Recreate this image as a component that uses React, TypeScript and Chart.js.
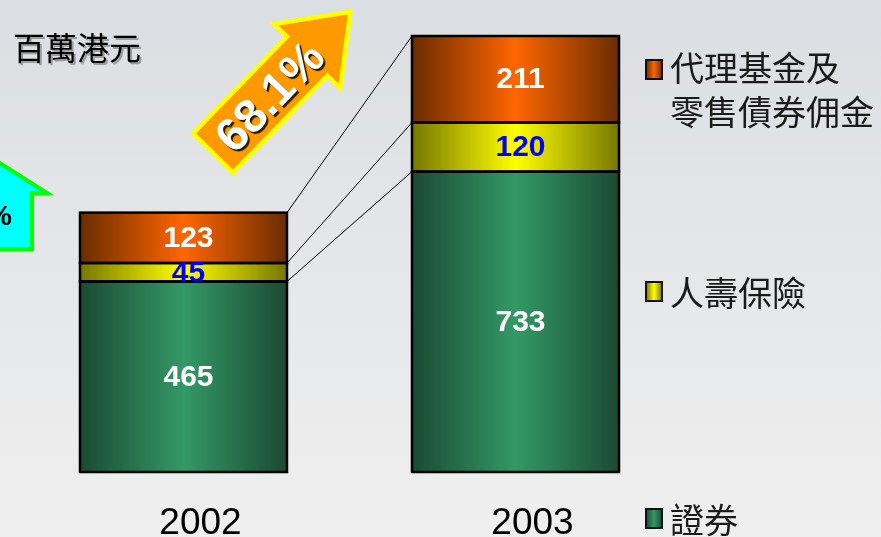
import React, { useEffect, useRef } from "react";
import { Chart, registerables } from "chart.js";

Chart.register(...registerables);

// ---------- data ----------
const categories = ["2002", "2003"];
const securities = [465, 733];
const lifeInsurance = [45, 120];
const agencyCommission = [123, 211];
const seriesNames = ["證券", "人壽保險", "代理基金及零售債券佣金"];
const legendLines = [["證券"], ["人壽保險"], ["代理基金及", "零售債券佣金"]];
const unitLabel = "百萬港元";
const growthLabel = "68.1%";
const leftArrowLabel = "%";
const yMax = 1064;

// ---------- styles ----------
const BAR_PCT = 0.6235;
const LATIN = '"Liberation Sans", Arial, sans-serif';
const CJK = '"Noto Sans CJK TC", "Noto Sans CJK SC", sans-serif';
const stopsList = [
  ["#1b4a32", "#339966", "#1b4a32"],
  ["#777700", "#ffff00", "#777700"],
  ["#6a2c00", "#ff6600", "#6a2c00"],
];
const labelColors = ["#ffffff", "#0000ff", "#ffffff"];
const legendBoxY = [509, 282, 60];
const legendTextY = [[520], [293], [68, 112]];

function makeFill(si: number) {
  return (c: any) => {
    const chart = c.chart;
    const xs = chart.scales && chart.scales.x;
    if (!xs || c.dataIndex === undefined || !chart.chartArea) return stopsList[si][1];
    const cx = xs.getPixelForValue(c.dataIndex);
    const w = (xs.width / categories.length) * BAR_PCT;
    const g = chart.ctx.createLinearGradient(cx - w / 2, 0, cx + w / 2, 0);
    g.addColorStop(0, stopsList[si][0]);
    g.addColorStop(0.5, stopsList[si][1]);
    g.addColorStop(1, stopsList[si][2]);
    return g;
  };
}

const decor = {
  id: "decor",
  beforeDraw(chart: any) {
    const { ctx, width, height } = chart;
    ctx.save();
    const g = ctx.createLinearGradient(0, 0, 0, height);
    g.addColorStop(0, "#dbdee2");
    g.addColorStop(1, "#efefef");
    ctx.fillStyle = g;
    ctx.fillRect(0, 0, width, height);
    ctx.restore();
  },
  afterDatasetsDraw(chart: any) {
    const ctx = chart.ctx;
    const xs = chart.scales.x;
    const metas = [0, 1, 2].map((i) => chart.getDatasetMeta(i));

    // segment outlines
    ctx.save();
    ctx.strokeStyle = "#000";
    ctx.lineWidth = 2.5;
    metas.forEach((m: any) => {
      m.data.forEach((el: any) => {
        const p = el.getProps(["x", "y", "base", "width"], true);
        ctx.strokeRect(p.x - p.width / 2, p.y, p.width, p.base - p.y);
      });
    });
    ctx.restore();

    // connector lines between bar segment tops
    ctx.save();
    ctx.strokeStyle = "#000";
    ctx.lineWidth = 1;
    metas.forEach((m: any) => {
      const a = m.data[0].getProps(["x", "y", "width"], true);
      const b = m.data[1].getProps(["x", "y", "width"], true);
      ctx.beginPath();
      ctx.moveTo(a.x + a.width / 2, a.y);
      ctx.lineTo(b.x - b.width / 2, b.y);
      ctx.stroke();
    });
    ctx.restore();

    // value labels
    ctx.save();
    ctx.font = `bold 30px ${LATIN}`;
    ctx.textAlign = "center";
    ctx.textBaseline = "middle";
    const sets = [securities, lifeInsurance, agencyCommission];
    metas.forEach((m: any, si: number) => {
      m.data.forEach((el: any, i: number) => {
        const p = el.getProps(["x", "y", "base"], true);
        ctx.fillStyle = labelColors[si];
        ctx.fillText(String(sets[si][i]), p.x + 5, (p.y + p.base) / 2 + 1);
      });
    });
    ctx.restore();

    // category labels
    ctx.save();
    ctx.font = `37px ${LATIN}`;
    ctx.fillStyle = "#000";
    ctx.textAlign = "center";
    ctx.textBaseline = "alphabetic";
    categories.forEach((c, i) => {
      ctx.fillText(c, xs.getPixelForValue(i) + 17, 534);
    });
    ctx.restore();

    // unit title
    ctx.save();
    ctx.font = `32px ${CJK}`;
    ctx.textAlign = "left";
    ctx.textBaseline = "middle";
    ctx.shadowColor = "rgba(0,0,0,0.3)";
    ctx.shadowOffsetX = 2;
    ctx.shadowOffsetY = 2;
    ctx.fillStyle = "#000";
    ctx.fillText(unitLabel, 13, 48);
    ctx.restore();

    // legend
    ctx.save();
    seriesNames.forEach((_, si) => {
      const bx = 646, by = legendBoxY[si], bw = 16, bh = 19;
      const g = ctx.createLinearGradient(bx, 0, bx + bw, 0);
      g.addColorStop(0, stopsList[si][0]);
      g.addColorStop(0.5, stopsList[si][1]);
      g.addColorStop(1, stopsList[si][2]);
      ctx.fillStyle = g;
      ctx.fillRect(bx, by, bw, bh);
      ctx.strokeStyle = "#111";
      ctx.lineWidth = 2;
      ctx.strokeRect(bx, by, bw, bh);
      ctx.font = `34px ${CJK}`;
      ctx.fillStyle = "#1a1a1a";
      ctx.textAlign = "left";
      ctx.textBaseline = "middle";
      legendLines[si].forEach((line, li) => {
        ctx.fillText(line, 670, legendTextY[si][li]);
      });
    });
    ctx.restore();

    // left (cut-off) cyan arrow
    ctx.save();
    ctx.beginPath();
    ctx.moveTo(32, 249);
    ctx.lineTo(32, 193);
    ctx.lineTo(47, 193);
    ctx.lineTo(-30, 144);
    ctx.lineTo(-107, 193);
    ctx.lineTo(-92, 193);
    ctx.lineTo(-92, 249);
    ctx.closePath();
    ctx.fillStyle = "#00ffff";
    ctx.fill();
    ctx.strokeStyle = "#00ff00";
    ctx.lineWidth = 4;
    ctx.stroke();
    ctx.font = `bold 28px ${LATIN}`;
    ctx.fillStyle = "#000";
    ctx.textAlign = "right";
    ctx.textBaseline = "alphabetic";
    ctx.fillText(leftArrowLabel, 12, 225);
    ctx.restore();

    // orange growth arrow
    ctx.save();
    ctx.translate(213, 153);
    ctx.rotate(Math.atan2(-141, 137));
    ctx.beginPath();
    ctx.moveTo(0, -28);
    ctx.lineTo(135, -28);
    ctx.lineTo(135, -46);
    ctx.lineTo(197, 0);
    ctx.lineTo(135, 46);
    ctx.lineTo(135, 28);
    ctx.lineTo(0, 28);
    ctx.closePath();
    ctx.fillStyle = "#ff9900";
    ctx.fill();
    ctx.strokeStyle = "#ffff00";
    ctx.lineWidth = 4.5;
    ctx.lineJoin = "miter";
    ctx.stroke();
    ctx.font = `bold 47px ${LATIN}`;
    ctx.fillStyle = "#ffffff";
    ctx.textAlign = "center";
    ctx.textBaseline = "middle";
    ctx.shadowColor = "rgba(0,0,0,0.85)";
    ctx.shadowOffsetX = 2;
    ctx.shadowOffsetY = 2;
    ctx.shadowBlur = 1;
    ctx.fillText(growthLabel, 80, 4);
    ctx.restore();
  },
};

export default function App() {
  const ref = useRef<HTMLCanvasElement | null>(null);
  useEffect(() => {
    if (!ref.current) return;
    const chart = new Chart(ref.current, {
      type: "bar",
      data: {
        labels: categories,
        datasets: [securities, lifeInsurance, agencyCommission].map((d, si) => ({
          label: seriesNames[si],
          data: d,
          backgroundColor: makeFill(si),
          borderWidth: 0,
          inflateAmount: 0,
          barPercentage: BAR_PCT,
          categoryPercentage: 1,
        })),
      },
      options: {
        responsive: false,
        animation: false,
        devicePixelRatio: 1,
        layout: { padding: { left: 17.5, right: 199.5, top: 36, bottom: 65 } },
        plugins: { legend: { display: false }, tooltip: { enabled: false } },
        scales: {
          x: { display: false, stacked: true },
          y: { display: false, stacked: true, min: 0, max: yMax },
        },
      },
      plugins: [decor],
    } as any);
    return () => chart.destroy();
  }, []);
  return (
    <div style={{ position: "fixed", left: 0, top: 0, width: 881, height: 537 }}>
      <canvas ref={ref} width={881} height={537} style={{ display: "block" }} />
    </div>
  );
}
